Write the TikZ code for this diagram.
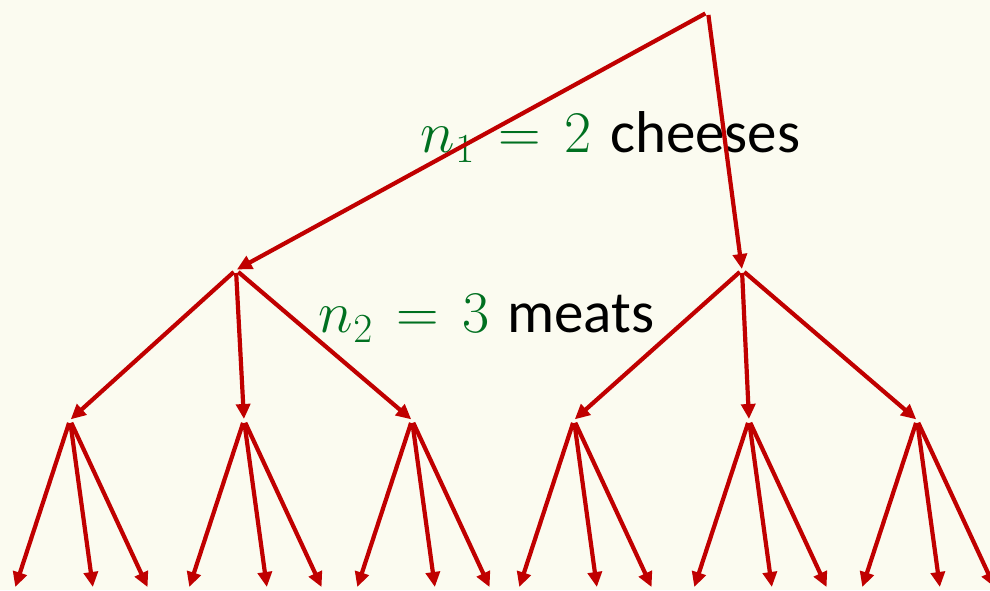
\RequirePackage{fix-cm}
\documentclass[tikz,border=0pt]{standalone}
\usepackage{fontspec}
\setmainfont{Carlito}
\usetikzlibrary{arrows.meta}
\definecolor{bgc}{HTML}{FBFBF0}
\definecolor{arr}{HTML}{C00000}
\definecolor{lbl}{HTML}{007020}
\tikzset{
  edge/.style={draw=arr, line width=4.2pt, -{Triangle[length=15pt,width=14pt]}, shorten <=3pt, shorten >=1pt},
  lab/.style={anchor=base west, inner sep=0pt, font=\fontsize{59}{64}\selectfont},
  mlab/.style={anchor=base east, inner sep=0pt, text=lbl, font=\fontsize{59}{64}\selectfont}
}
\begin{document}
\begin{tikzpicture}[x=1pt,y=-1pt]
\fill[bgc] (0,0) rectangle (990,590);
\useasboundingbox (0,0) rectangle (990,590);
\coordinate (r) at (708,12);
\coordinate (a) at (236,270);
\coordinate (b) at (742,270);
\foreach \n/\x in {a1/70,a2/244,a3/412,b1/574,b2/749,b3/917}{
  \coordinate (\n) at (\x,420);
  \coordinate (\n l) at (\x-55,588);
  \coordinate (\n m) at (\x+23,588);
  \coordinate (\n r) at (\x+78,588);
}
\node[mlab] (m1) at (592,152) {$n_{\raisebox{-2pt}{$\scriptstyle 1$}}\mkern2.25mu=\mkern2.25mu2$};
\node[lab] (t1) at (610,152) {cheeses};
\node[mlab] (m2) at (490,332) {$n_{\raisebox{-2pt}{$\scriptstyle 2$}}\mkern2.25mu=\mkern2.25mu3$};
\node[lab] (t2) at (507,332) {meats};
\draw[edge] (r) -- (a);
\draw[edge] (r) -- (b);
\foreach \p/\c in {a/a1,a/a2,a/a3,b/b1,b/b2,b/b3}{
  \draw[edge] (\p) -- (\c);
}
\foreach \n in {a1,a2,a3,b1,b2,b3}{
  \draw[edge] (\n) -- (\n l);
  \draw[edge] (\n) -- (\n m);
  \draw[edge] (\n) -- (\n r);
}
\end{tikzpicture}
\end{document}
